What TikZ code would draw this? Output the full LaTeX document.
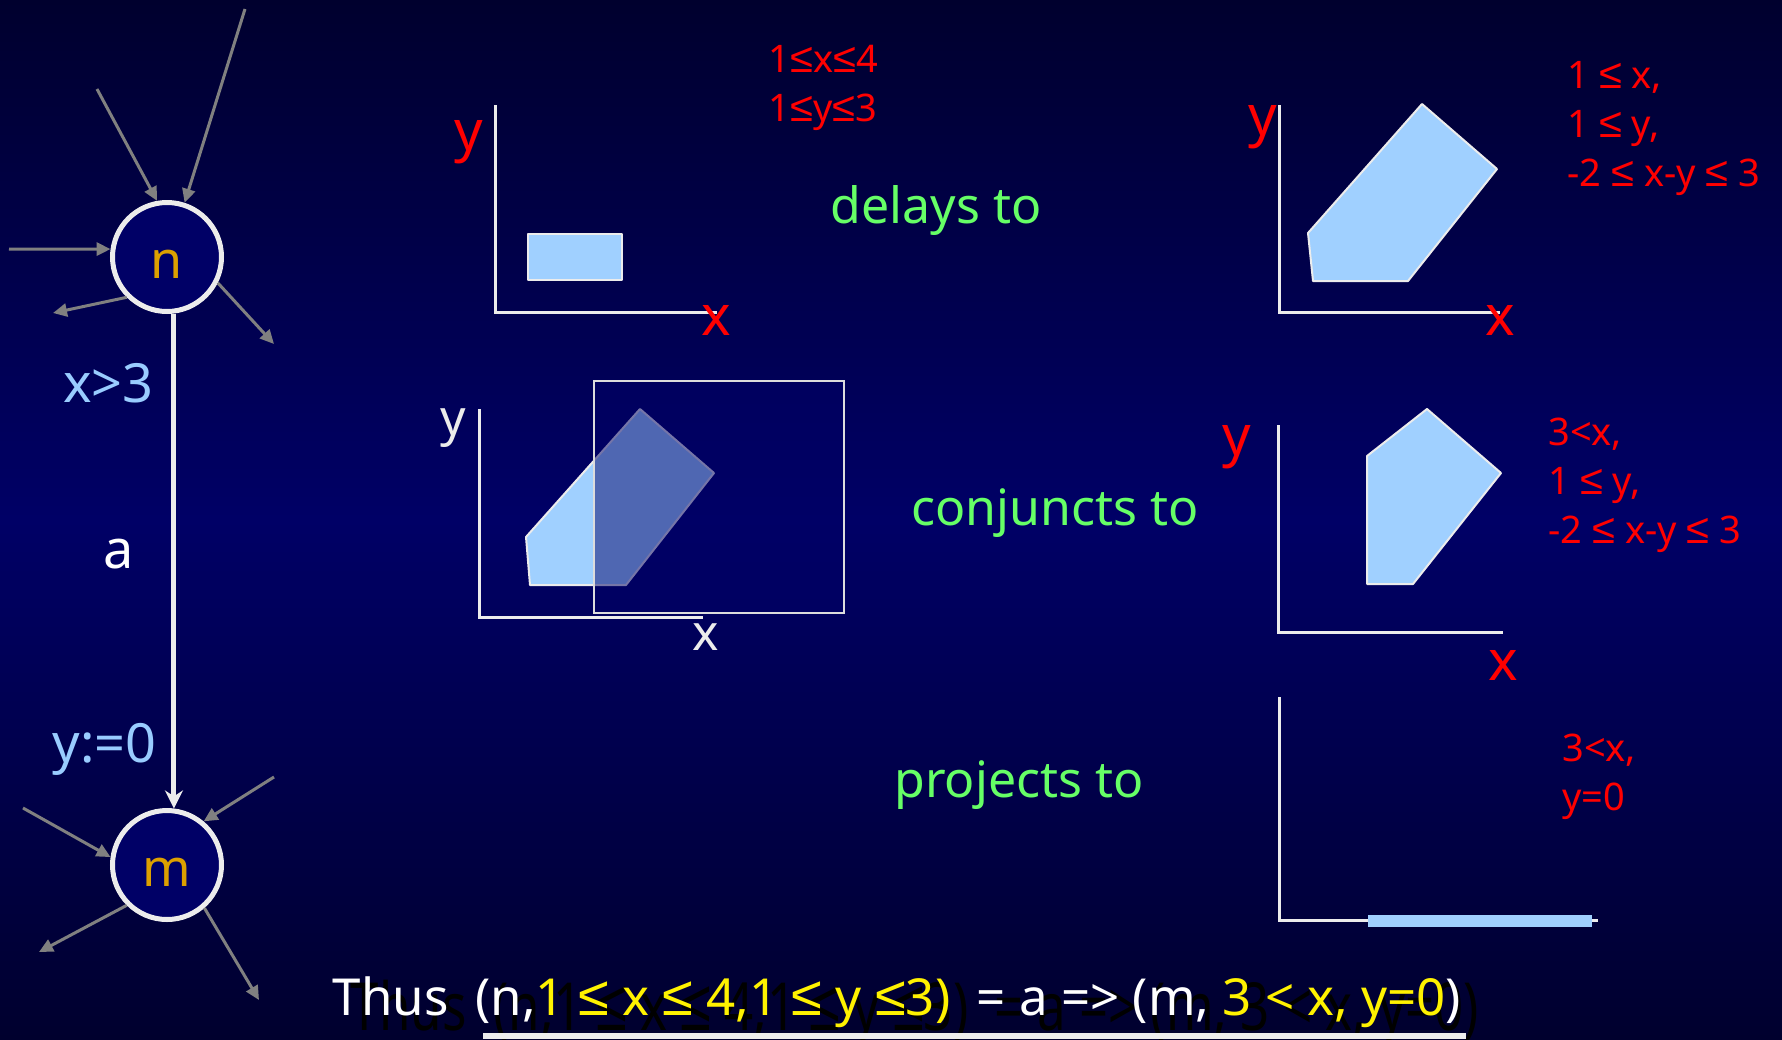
\documentclass[tikz,border=0pt]{standalone}
\usepackage{fontspec}
\setmainfont{Noto Sans}
\newfontfamily\lefont{Liberation Sans}
\usepackage{graphicx}
\usepackage{tikz}
\usetikzlibrary{arrows.meta}
\definecolor{navytop}{RGB}{0,0,46}
\definecolor{navymid}{RGB}{0,0,102}
\definecolor{skyfill}{RGB}{160,208,255}
\definecolor{guardblue}{RGB}{153,204,255}
\definecolor{verbgreen}{RGB}{102,255,102}
\definecolor{locgold}{RGB}{221,160,0}
\definecolor{stubgray}{RGB}{128,128,128}
\definecolor{linewhite}{RGB}{236,236,236}
\newcommand{\yel}[1]{\textcolor{yellow}{#1}}
\newcommand{\leqs}{{\lefont\scalebox{1.1}{≤}}}
\newcommand{\loc}[1]{\raisebox{-3.5pt}[\height][\depth]{#1}}
\tikzset{
  state/.style={circle, draw=linewhite, line width=2.5pt, fill=navymid, minimum size=54.5pt, inner sep=0pt, text=locgold, font=\fontsize{26}{30}\selectfont},
  trans/.style={draw=linewhite, line width=2.5pt, -{Stealth[length=9pt,width=9pt]}},
  stub/.style={draw=stubgray, line width=1.5pt, -{Triangle[length=7pt,width=6.5pt]}},
  axis/.style={draw=linewhite, line width=1.5pt},
  region/.style={fill=skyfill, draw=linewhite, line width=1pt, line join=round},
  guard/.style={text=guardblue, inner sep=0pt, font=\fontsize{27}{32}\selectfont},
  act/.style={text=white, inner sep=0pt, font=\fontsize{27}{32}\selectfont},
  cons/.style={text=red, align=left, anchor=north west, inner sep=0pt, font=\fontsize{19}{24.5}\selectfont},
  verb/.style={text=verbgreen, font=\fontsize{25}{30}\selectfont},
  axr/.style={text=red, inner sep=0pt, font=\fontsize{28}{32}\selectfont},
  axw/.style={text=linewhite, inner sep=0pt, font=\fontsize{25}{30}\selectfont},
  thus/.style={anchor=base, inner sep=0pt, text=white, font=\fontsize{25.5}{30}\selectfont},
}
\begin{document}
\begin{tikzpicture}[x=0.5pt, y=-0.5pt]
\useasboundingbox (0,0) rectangle (1782,1039);
\fill[top color=navytop, bottom color=navytop, middle color=navymid] (0,0) rectangle (1782,1039);

% automaton
\node[state] (n) at (167,257) {\loc{n}};
\node[state] (m) at (167,865) {\loc{m}};
\draw[trans] (n.-83) -- node[guard, pos=.14, left=9pt]{x>3} node[act, pos=.485, left=19pt]{a} node[guard, pos=.88, left=7.5pt]{y:=0} (m.83);
\coordinate (ni1) at (97,89);
\coordinate (ni2) at (245,9);
\coordinate (ni3) at (9,249);
\coordinate (no1) at (53,313);
\coordinate (no2) at (274,344);
\coordinate (mi1) at (274,777);
\coordinate (mi2) at (23,808);
\coordinate (mo1) at (39,952);
\coordinate (mo2) at (259,1000);
\draw[stub] (ni1) -- (n.100);
\draw[stub] (ni2) -- (n.72);
\draw[stub] (ni3) -- (n.172);
\draw[stub] (n.225) -- (no1);
\draw[stub] (n.333) -- (no2);
\draw[stub] (mi1) -- (m.50);
\draw[stub] (mi2) -- (m.172);
\draw[stub] (m.225) -- (mo1);
\draw[stub] (m.311) -- (mo2);

% delays to
\draw[axis] (495,105) |- (717,312);
\node[axr] (y1) at (469,142) {y};
\node[axr] (x1) at (716,320) {x};
\draw[region] (528,234) rectangle (622,280);
\node[cons] (c1) at (768,45) {1\leqs{}x\leqs{}4\\1\leqs{}y\leqs{}3};
\node[verb] (v1) at (936,210) {delays to};
\draw[axis] (1279,105) |- (1500,312);
\node[axr] (y2) at (1263,127) {y};
\node[axr] (x2) at (1500,320) {x};
\draw[region] (1308,233) -- (1422,104) -- (1497,169) -- (1408,281) -- (1313,281) -- cycle;
\node[cons] (c2) at (1567,61) {1 \leqs{} x,\\1 \leqs{} y,\\-2 \leqs{} x-y \leqs{} 3};

% conjuncts to
\draw[axis] (479,409) |- (703,617);
\node[axw] (y3) at (453,428) {y};
\node[axw] (x3) at (706,637) {x};
\draw[region] (526,537) -- (640,409) -- (714,473) -- (626,585) -- (530,585) -- cycle;
\draw[fill=navymid, fill opacity=.5, draw=linewhite!85!gray, line width=1pt] (594,381) rectangle (844,613);
\node[verb] (v2) at (1055,513) {conjuncts to};
\draw[axis] (1278,425) |- (1503,632);
\node[axr] (y4) at (1237,447) {y};
\node[axr] (x4) at (1503,665) {x};
\draw[region] (1367,456) -- (1427,409) -- (1501,473) -- (1413,584) -- (1367,584) -- cycle;
\node[cons] (c4) at (1548,418) {3<x,\\1 \leqs{} y,\\-2 \leqs{} x-y \leqs{} 3};

% projects to
\draw[axis] (1279,697) |- (1598,920);
\draw[skyfill, line width=6pt] (1368,921) -- (1592,921);
\node[verb] (v3) at (1019,785) {projects to};
\node[cons] (c5) at (1562,734) {3<x,\\y=0};

% conclusion
\node[thus, text=black] (thusshadow) at (915,1030) {\scalebox{1}[1.3]{Thus\ \ (n,1 \leqs{} x \leqs{} 4,1 \leqs{} y \leqs{}3)\ \ = a => (m, 3 < x, y=0)}};
\node[thus] (thus) at (897,1015) {Thus\ \ (n,\yel{1 \leqs{} x \leqs{} 4,1 \leqs{} y \leqs{}3)}\ \ = a => (m, \yel{3 < x, y=0})};
\fill[linewhite] (483,1033) rectangle (1466,1039);
\end{tikzpicture}
\end{document}
